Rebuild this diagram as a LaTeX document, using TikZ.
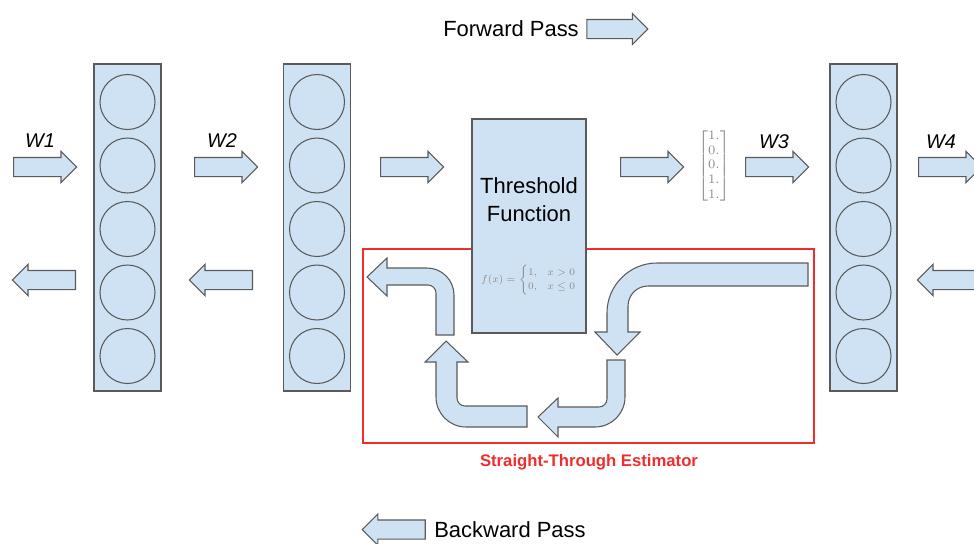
\documentclass[tikz,border=0pt]{standalone}
\usepackage{amsmath}
\usepackage{fontspec}
\setmainfont{Liberation Sans}
\usetikzlibrary{shapes.arrows, positioning}

\definecolor{layerblue}{HTML}{CFE2F3}
\definecolor{edgegray}{HTML}{5A5A5A}
\definecolor{stered}{HTML}{F02C2C}
\definecolor{mathgray}{HTML}{8A8A8A}

\begin{document}
\begin{tikzpicture}[x=0.2mm, y=-0.2mm, line width=0.6pt,
	layer/.style={draw=edgegray, fill=layerblue, minimum width=13.4mm, minimum height=65.4mm, inner sep=0pt},
	neuron/.style={circle, draw=edgegray, minimum size=11mm, inner sep=0pt},
	fwd/.style={single arrow, draw=edgegray, fill=layerblue, minimum height=12.6mm, minimum width=6mm,
		single arrow head extend=1.2mm, inner xsep=0pt, inner ysep=1.8mm},
	bwd/.style={fwd, shape border rotate=180},
	bent/.style={draw=edgegray, fill=layerblue},
	wlabel/.style={font=\fontsize{11.3}{13}\selectfont\itshape},
	passtext/.style={font=\fontsize{12.5}{16}\selectfont, inner sep=0pt}]

	\useasboundingbox (0,0) rectangle (974,543);
	\clip (0,0) rectangle (974,543);

	% layers of neurons
	\foreach \name/\x in {one/127.5, two/317, three/863.5} {
		\node[layer] (layer\name) at (\x,227.5) {};
		\foreach \i in {1,...,5}
			\node[neuron] (\name n\i) at (\x,{38.5+63.5*\i}) {};
	}

	% forward arrows (placed by their tails)
	\node[fwd, anchor=tail] (fwone) at (13,167) {};
	\node[fwd, anchor=tail] (fwtwo) at (194,167) {};
	\node[fwd, anchor=tail] (fwthree) at (380,167) {};
	\node[fwd, anchor=tail] (fwfour) at (620,167) {};
	\node[fwd, anchor=tail] (fwfive) at (745,167) {};
	\node[fwd, anchor=tail] (fwsix) at (918,167) {};

	% backward arrows
	\node[bwd, anchor=tail] (bwone) at (76,280) {};
	\node[bwd, anchor=tail] (bwtwo) at (253,280) {};
	\node[bwd, anchor=tail] (bwthree) at (981,280) {};

	\node[wlabel] (wone) at (40,141) {W1};
	\node[wlabel] (wtwo) at (222,141) {W2};
	\node[wlabel] (wthree) at (774,142) {W3};
	\node[wlabel] (wfour) at (941,142) {W4};

	% straight-through estimator
	\node[draw=stered, line width=0.8pt, minimum width=90.2mm, minimum height=38.8mm, inner sep=0pt] (ste) at (588.5,346) {};
	\node[text=stered, font=\fontsize{9.5}{11}\selectfont\bfseries, anchor=base] (stetext) at (589,466) {Straight-Through Estimator};

	\node[draw=edgegray, fill=layerblue, minimum width=22.8mm, minimum height=42.8mm] (thresh) at (529,226) {};
	\node[passtext, align=center] (threshtext) at (529,200) {Threshold\\Function};
	\node[text=mathgray, font=\scriptsize] (fx) at (529,280) {\scalebox{0.82}{$f(x)=\begin{cases}1, & x>0\\0, & x\le 0\end{cases}$}};

	\node[text=mathgray, font=\scriptsize] (vec) at (714,166) {\scalebox{1.05}{$\begin{bmatrix}1.\\0.\\0.\\1.\\1.\end{bmatrix}$}};

	% bent arrows
	\draw[bent] (436,335) [rounded corners=1.6mm] -- (436,285) [sharp corners] -- (387,285) -- (387,296) -- (367,277)
		-- (387,258) -- (387,268) [rounded corners=5.4mm] -- (454,268) [sharp corners] -- (454,335) -- cycle;
	\draw[bent] (527,406) [rounded corners=1.6mm] -- (457,406) [sharp corners] -- (457,362) -- (468,362) -- (446,341)
		-- (425,362) -- (436,362) [rounded corners=6mm] -- (436,427) [sharp corners] -- (527,427) -- cycle;
	\draw[bent] (607,360) [rounded corners=1.6mm] -- (607,407) [sharp corners] -- (558,407) -- (558,398) -- (538,417)
		-- (558,437) -- (558,427) [rounded corners=6mm] -- (625,427) [sharp corners] -- (625,360) -- cycle;
	\draw[bent] (808,263) [rounded corners=10mm] -- (607,263) [sharp corners] -- (607,332) -- (595,332) -- (617,355)
		-- (640,332) -- (628,332) [rounded corners=4mm] -- (628,286) [sharp corners] -- (808,286) -- cycle;

	% legend
	\node[passtext] (fwdtext) at (511,29) {Forward Pass};
	\node[fwd, minimum height=12.2mm, right=1.4mm of fwdtext] (fwdarrow) {};
	\node[passtext] (bwdtext) at (510,529.5) {Backward Pass};
	\node[bwd, left=1.6mm of bwdtext] (bwdarrow) {};

\end{tikzpicture}
\end{document}
